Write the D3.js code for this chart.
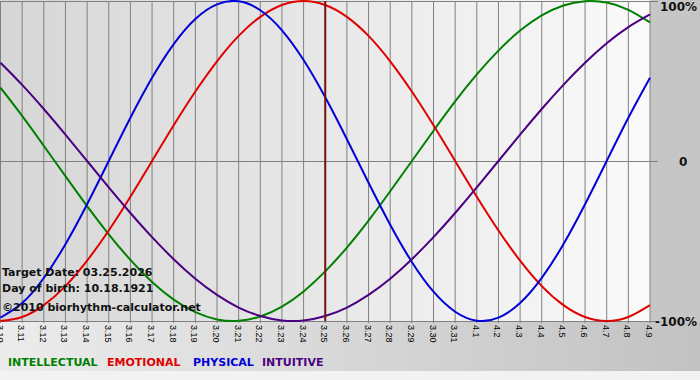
<!DOCTYPE html>
<html lang="en">
<head>
<meta charset="utf-8">
<title>Biorhythm</title>
<script src="https://cdn.jsdelivr.net/npm/d3@7"></script>
<style>
  body { margin: 0; background: #fff; }
  svg { display: block; font-family: Verdana, "DejaVu Sans", sans-serif; }
</style>
</head>
<body>
<script>
// dates along the x axis (month.day)
var dates = ["3.10","3.11","3.12","3.13","3.14","3.15","3.16","3.17","3.18","3.19","3.20",
             "3.21","3.22","3.23","3.24","3.25","3.26","3.27","3.28","3.29","3.30","3.31",
             "4.1","4.2","4.3","4.4","4.5","4.6","4.7","4.8","4.9"];

// cycle values per day, -1 .. 1
var physical = [-0.979,-0.888,-0.731,-0.520,-0.270,0,0.270,0.520,0.731,0.888,0.979,0.998,0.942,0.817,0.631,0.398,
                0.136,-0.136,-0.398,-0.631,-0.817,-0.942,-0.998,-0.979,-0.888,-0.731,-0.520,-0.270,0,0.270,0.520];
var emotional = [-1.000,-0.975,-0.901,-0.782,-0.623,-0.434,-0.223,0,0.223,0.434,0.623,0.782,0.901,0.975,1.000,0.975,
                 0.901,0.782,0.623,0.434,0.223,0,-0.223,-0.434,-0.623,-0.782,-0.901,-0.975,-1.000,-0.975,-0.901];
var intellectual = [0.458,0.282,0.095,-0.095,-0.282,-0.458,-0.618,-0.756,-0.866,-0.945,-0.990,-0.999,-0.972,-0.910,-0.815,-0.690,
                    -0.541,-0.372,-0.189,0,0.189,0.372,0.541,0.690,0.815,0.910,0.972,0.999,0.990,0.945,0.866];
var intuitive = [0.614,0.476,0.325,0.165,0,-0.165,-0.325,-0.476,-0.614,-0.736,-0.837,-0.916,-0.969,-0.997,-0.997,-0.969,
                 -0.916,-0.837,-0.736,-0.614,-0.476,-0.325,-0.165,0,0.165,0.325,0.476,0.614,0.736,0.837,0.916];

var yTicks = [1, 0, -1];
var yTickLabels = ["100%", "0", "-100%"];
var targetIndex = 15;

var series = [
  { name: "INTELLECTUAL", values: intellectual, color: "#008000" },
  { name: "EMOTIONAL",    values: emotional,    color: "#e00000" },
  { name: "PHYSICAL",     values: physical,     color: "#0000d8" },
  { name: "INTUITIVE",    values: intuitive,    color: "#4b0082" }
];

var w = 700, h = 380;
var plotL = 0.5, plotR = 650, plotT = 1, plotB = 321;

var x = d3.scaleLinear().domain([0, dates.length - 1]).range([plotL, plotR]);
var y = d3.scaleLinear().domain([-1, 1]).range([plotB, plotT]);

var svg = d3.select("body").append("svg").attr("width", w).attr("height", h);
var defs = svg.append("defs");

var g1 = defs.append("linearGradient").attr("id", "plotbg");
g1.append("stop").attr("offset", "0%").attr("stop-color", "#d6d6d6");
g1.append("stop").attr("offset", "100%").attr("stop-color", "#fafafa");

var g2 = defs.append("linearGradient").attr("id", "bottombg");
g2.append("stop").attr("offset", "0%").attr("stop-color", "#ececec");
g2.append("stop").attr("offset", "100%").attr("stop-color", "#c2c2c2");

defs.append("clipPath").attr("id", "plotclip")
  .append("rect").attr("x", 0).attr("y", 0).attr("width", plotR + 1).attr("height", plotB + 1);

// backgrounds
svg.append("rect").attr("x", 0).attr("y", 0).attr("width", w).attr("height", h).attr("fill", "#c6c6c6");
svg.append("rect").attr("x", 0).attr("y", plotB).attr("width", w).attr("height", 50).attr("fill", "url(#bottombg)");
svg.append("rect").attr("x", 0).attr("y", 371).attr("width", w).attr("height", 9).attr("fill", "#f2f2f2");
svg.append("rect").attr("x", 0).attr("y", 0).attr("width", plotR).attr("height", plotB).attr("fill", "url(#plotbg)");

// vertical grid + rotated date labels
var xAxis = d3.axisBottom(x).tickValues(d3.range(dates.length))
  .tickSize(plotB - plotT + 2).tickFormat(function(d) { return dates[d]; });
var xg = svg.append("g").attr("transform", "translate(0," + plotT + ")").call(xAxis);
xg.select(".domain").remove();
xg.selectAll(".tick").attr("transform", null);
xg.selectAll(".tick line")
  .attr("x1", function(d) { return x(d); }).attr("x2", function(d) { return x(d); })
  .attr("stroke", "#808080");
xg.selectAll(".tick text")
  .attr("transform", function(d) { return "translate(" + (x(d) - 4) + "," + (plotB + 3) + ") rotate(90)"; })
  .attr("x", 0).attr("y", 0).attr("dy", 0)
  .attr("text-anchor", "start")
  .style("font-size", "9px").attr("fill", "#000");

// horizontal lines and right labels
svg.selectAll(".hline").data(yTicks).enter().append("line")
  .attr("x1", 0).attr("x2", plotR + 8)
  .attr("y1", function(d) { return Math.round(y(d)) + 0.5; })
  .attr("y2", function(d) { return Math.round(y(d)) + 0.5; })
  .attr("stroke", "#808080");

svg.selectAll(".ylab").data(yTicks).enter().append("text")
  .attr("x", function(d, i) { return i === 2 ? 655 : (i === 1 ? 679 : 660); })
  .attr("y", function(d) { return Math.min(Math.max(y(d), 6), 322) + 5; })
  .style("font-size", "12px").style("font-weight", "bold").attr("fill", "#111")
  .text(function(d, i) { return yTickLabels[i]; });

// curves
var line = d3.line()
  .x(function(d, i) { return x(i); })
  .y(function(d) { return y(d); })
  .curve(d3.curveNatural);

var curves = svg.append("g").attr("clip-path", "url(#plotclip)");
curves.selectAll("path").data(series).enter().append("path")
  .attr("d", function(s) { return line(s.values); })
  .attr("fill", "none")
  .attr("stroke", function(s) { return s.color; })
  .attr("stroke-width", 2);

// target date line
svg.append("line")
  .attr("x1", x(targetIndex)).attr("x2", x(targetIndex))
  .attr("y1", plotT).attr("y2", plotB)
  .attr("stroke", "#7a1010").attr("stroke-width", 2);

// annotations
var notes = ["Target Date: 03.25.2026", "Day of birth: 10.18.1921", "\u00a92010 biorhythm-calculator.net"];
var noteY = [276, 292, 311];
svg.selectAll(".note").data(notes).enter().append("text")
  .attr("x", 2).attr("y", function(d, i) { return noteY[i]; })
  .style("font-size", "11px").style("font-weight", "bold").attr("fill", "#111")
  .text(function(d) { return d; });

// legend
var legX = [8, 107, 193, 262];
svg.selectAll(".leg").data(series).enter().append("text")
  .attr("x", function(d, i) { return legX[i]; }).attr("y", 366)
  .style("font-size", "11px").style("font-weight", "bold")
  .attr("fill", function(d) { return d.color; })
  .text(function(d) { return d.name; });
</script>
</body>
</html>
